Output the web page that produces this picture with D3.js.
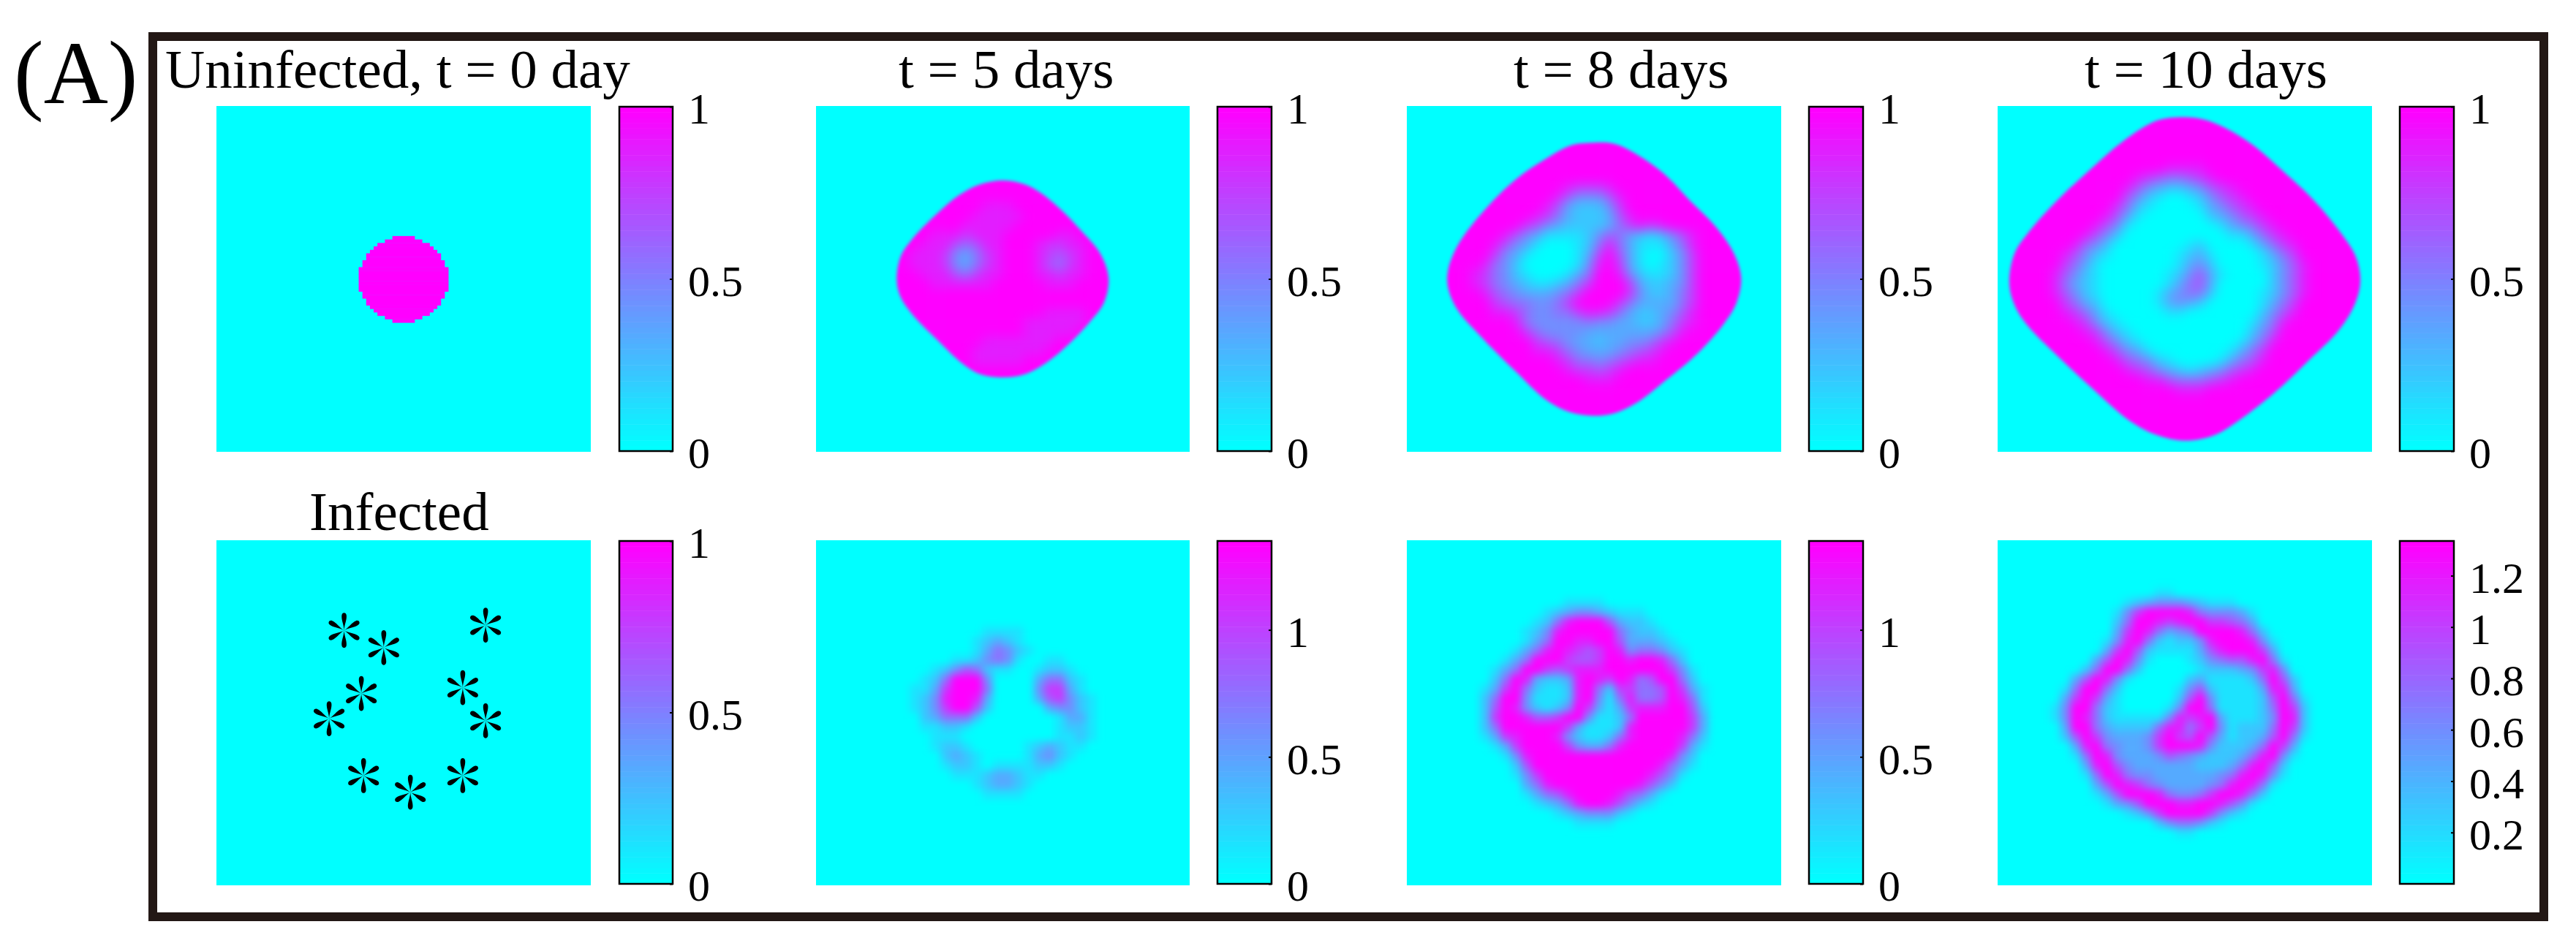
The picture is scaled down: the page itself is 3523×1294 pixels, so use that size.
<!DOCTYPE html>
<html>
<head>
<meta charset="utf-8">
<script src="https://cdn.jsdelivr.net/npm/d3@7"></script>
<style>
  html, body { margin: 0; padding: 0; background: #fff; }
  svg text { font-family: "Liberation Serif", serif; fill: #000; }
</style>
</head>
<body>
<div id="chart-area"></div>
<script>
// titles and colorbar ticks
const panelLabel = "(A)";
const titlesTop = ["Uninfected, t = 0 day", "t = 5 days", "t = 8 days", "t = 10 days"];
const titlesBottom = ["Infected"];
const ticksHalf = [0, 0.5, 1];
const ticksFine = [0.2, 0.4, 0.6, 0.8, 1, 1.2];
const colorMaxUninfected = 1;
const colorMaxInfected = 1.35;
const colorMaxInfected10 = 1.335;

// t = 0: half width of the seeded disk per row, rows -12..12 around the centre (100 x 100 sim grid)
const diskHalfWidths = [3, 5, 7, 8, 9, 10, 10, 11, 11, 12, 12, 12, 12, 12, 12, 12, 11, 11, 10, 10, 9, 8, 7, 5, 3];

// infection sites, percent of the panel
const siteX = [34.1, 44.7, 71.9, 38.7, 65.8, 30.1, 71.9, 39.3, 51.8, 65.8];
const siteY = [26.1, 31.1, 24.6, 44.4, 42.7, 51.7, 52.3, 68.2, 73.0, 68.2];

// outer front of the uninfected colony, [x, y] in percent of the panel
const frontT5 = [[50.2,21.5],[55.8,22.6],[60.0,25.0],[65.6,30.0],[71.2,36.3],[76.1,42.7],[78.3,49.7],[77.1,56.8],[73.3,62.4],[67.0,69.5],[61.4,74.4],[55.8,77.6],[50.2,78.5],[44.0,77.6],[39.1,74.4],[32.1,67.3],[25.8,60.3],[22.7,55.4],[21.6,50.4],[22.7,43.4],[25.8,38.4],[32.1,31.4],[38.4,25.7],[44.0,22.6]];
const frontT8 = [[49.7,10.6],[55.3,10.9],[61.6,14.1],[68.5,19.4],[75.5,27.2],[82.5,34.9],[87.4,42.7],[89.3,49.7],[88.1,56.8],[84.6,63.1],[77.6,71.6],[69.2,79.3],[61.6,85.7],[55.3,88.9],[49.7,89.6],[43.4,88.5],[37.2,85.0],[28.8,76.5],[19.7,66.6],[13.5,58.9],[11.0,52.5],[11.0,47.6],[13.5,40.5],[19.7,31.4],[28.8,21.5],[37.2,15.2],[44.1,11.3]];
const frontT10 = [[49.5,3.2],[55.1,3.9],[60.7,6.3],[67.7,10.9],[76.1,18.7],[84.4,27.2],[91.4,36.3],[95.6,43.4],[96.9,50.4],[95.6,56.8],[91.4,64.5],[83.0,73.7],[74.0,82.9],[64.9,90.6],[57.9,95.2],[50.2,96.8],[42.6,95.2],[35.6,91.3],[25.1,81.5],[16.0,72.3],[7.7,63.1],[4.5,57.5],[3.1,51.1],[4.5,42.7],[8.4,36.3],[16.0,27.2],[25.1,18.0],[33.5,10.2],[42.6,4.2]];

// density cells, 36 x 36, digit 0..9 = bottom..top of that panel's colorbar
const full = "999999 999999 999999 999999 999999 999999";
const none = "000000 000000 000000 000000 000000 000000";
const rep = (row, n) => Array(n).fill(row);

const fieldT5 = [
  ...rep(full, 10),
  "999999 999999 999988 899999 999999 999999",
  "999999 999999 999888 889999 999999 999999",
  "999999 999999 998888 899999 999999 999999",
  "999999 999998 887888 999998 899999 999999",
  "999999 999988 865688 999877 889999 999999",
  "999999 999888 743578 999876 789999 999999",
  "999999 999888 743578 999865 789999 999999",
  "999999 999988 865788 999887 889999 999999",
  "999999 999998 888889 999988 899999 999999",
  ...rep(full, 2),
  "999999 999999 999999 999988 889999 999999",
  "999999 999999 999999 998888 889999 999999",
  "999999 999999 999999 998888 899999 999999",
  "999999 999999 999988 888889 999999 999999",
  "999999 999999 999888 888899 999999 999999",
  "999999 999999 999888 889999 999999 999999",
  ...rep(full, 9)
];

const fieldT8 = [
  ...rep(full, 8),
  "999999 999999 999877 789999 999999 999999",
  "999999 999999 998644 468999 999999 999999",
  "999999 999999 986322 247999 999999 999999",
  "999999 999999 875322 236899 999999 999999",
  "999999 999997 643222 235787 899999 999999",
  "999999 999864 311112 465321 246899 999999",
  "999999 998643 100012 585311 135899 999999",
  "999999 997431 000013 796310 024799 999999",
  "999999 985420 000014 897310 124799 999999",
  "999999 875421 000135 998421 124799 999999",
  "999999 875432 112357 999732 234799 999999",
  "999999 986543 334579 999742 235799 999999",
  "999999 997655 445799 997533 335799 999999",
  "999999 998875 445578 875322 346899 999999",
  "999999 999985 444445 443322 357899 999999",
  "999999 999997 544443 333333 468999 999999",
  "999999 999999 765433 233445 789999 999999",
  "999999 999999 887543 334567 899999 999999",
  "999999 999999 998755 456788 999999 999999",
  "999999 999999 999877 678999 999999 999999",
  "999999 999999 999998 889999 999999 999999",
  ...rep(full, 7)
];

const fieldT10 = [
  ...rep(full, 6),
  "999999 999999 999988 889999 999999 999999",
  "999999 999999 987655 678999 999999 999999",
  "999999 999999 864322 346789 999999 999999",
  "999999 999999 642100 124678 999999 999999",
  "999999 999997 521000 013467 899999 999999",
  "999999 999986 310000 002346 789999 999999",
  "999999 999864 100000 000134 578999 999999",
  "999999 998642 000000 000011 357899 999999",
  "999999 985420 000000 120000 135789 999999",
  "999999 864210 000001 231000 013579 999999",
  "999999 753100 000001 342000 012468 999999",
  "999998 642100 000012 463100 002468 999999",
  "999998 532100 000013 563000 002468 999999",
  "999998 642100 000134 552000 012468 999999",
  "999999 753200 000134 320000 013579 999999",
  "999999 875310 000011 000000 024689 999999",
  "999999 987421 000000 000000 135899 999999",
  "999999 998742 100000 000000 246999 999999",
  "999999 999864 210000 000001 358999 999999",
  "999999 999986 431000 000013 579999 999999",
  "999999 999998 654210 000135 689999 999999",
  "999999 999999 876432 123467 899999 999999",
  "999999 999999 998865 556789 999999 999999",
  "999999 999999 999998 889999 999999 999999",
  ...rep(full, 6)
];

const fieldB5 = [
  ...rep(none, 9),
  "000000 000000 000011 110000 000000 000000",
  "000000 000000 000123 210000 000000 000000",
  "000000 000000 000135 421000 000000 000000",
  "000000 000000 011245 410011 000000 000000",
  "000000 000001 246521 100122 100000 000000",
  "000000 000012 599940 000355 210000 000000",
  "000000 000113 799950 000477 310000 000000",
  "000000 000124 899830 000367 421000 000000",
  "000000 000124 799620 000034 421000 000000",
  "000000 000023 555200 000001 331000 000000",
  "000000 000011 221000 000001 221000 000000",
  "000000 000001 110000 000001 121000 000000",
  "000000 000001 221000 001232 110000 000000",
  "000000 000000 232100 001342 100000 000000",
  "000000 000000 122101 111221 000000 000000",
  "000000 000000 011123 321100 000000 000000",
  "000000 000000 000123 321000 000000 000000",
  "000000 000000 000011 110000 000000 000000",
  ...rep(none, 9)
];

const fieldB8 = [
  ...rep(none, 6),
  "000000 000000 000111 100000 000000 000000",
  "000000 000000 012344 321110 000000 000000",
  "000000 000000 125899 963221 000000 000000",
  "000000 000001 248999 995322 100000 000000",
  "000000 000001 359988 996333 210000 000000",
  "000000 000013 589876 798455 421000 000000",
  "000000 000135 999766 799899 852000 000000",
  "000000 001359 976788 899999 974100 000000",
  "000000 002598 322389 879856 995200 000000",
  "000000 013795 211289 527755 697310 000000",
  "000000 025994 111289 415855 698510 000000",
  "000000 026984 212497 313788 899620 000000",
  "000000 027998 667994 112599 999730 000000",
  "000000 025999 999731 112899 999730 000000",
  "000000 013789 998421 125899 998520 000000",
  "000000 001379 999743 358999 997310 000000",
  "000000 000148 999999 999999 984200 000000",
  "000000 000026 999999 999999 853100 000000",
  "000000 000014 799999 999998 641000 000000",
  "000000 000003 589999 999986 420000 000000",
  "000000 000001 356899 998653 100000 000000",
  "000000 000000 123589 986421 000000 000000",
  "000000 000000 001234 442100 000000 000000",
  "000000 000000 000011 110000 000000 000000",
  ...rep(none, 6)
];

const fieldB10 = [
  ...rep(none, 5),
  "000000 000000 000110 000000 000000 000000",
  "000000 000000 123444 321110 000000 000000",
  "000000 000001 479999 854443 100000 000000",
  "000000 000002 599878 997765 300000 000000",
  "000000 000003 798534 599998 520000 000000",
  "000000 000014 895212 248999 841000 000000",
  "000000 000037 962111 136899 973000 000000",
  "000000 000369 841000 124566 895100 000000",
  "000000 002599 520000 012223 478400 000000",
  "000000 036984 100000 231111 259620 000000",
  "000000 159952 000001 462111 138830 000000",
  "000000 379731 000002 694111 126951 000000",
  "000001 499521 000014 995111 125972 000000",
  "000001 498521 111148 789311 124982 000000",
  "000000 399532 222588 579412 225972 000000",
  "000000 269743 334797 696312 236951 000000",
  "000000 038954 334799 984222 359730 000000",
  "000000 015984 333465 432223 589410 000000",
  "000000 003896 433333 322235 896200 000000",
  "000000 001598 544333 333458 984100 000000",
  "000000 000369 875433 334589 851000 000000",
  "000000 000136 999854 457998 520000 000000",
  "000000 000013 469998 899864 100000 000000",
  "000000 000000 124799 997421 000000 000000",
  "000000 000000 000245 542100 000000 000000",
  "000000 000000 000001 100000 000000 000000",
  ...rep(none, 5)
];

const size = { width: 3523, height: 1294 };
const frameBox = { x: 209, y: 50, width: 3270, height: 1204 };
const panelX = [[296, 808], [1116, 1627], [1924, 2436], [2732, 3244]];
const barX = [[847, 920], [1665, 1739], [2474, 2548], [3282, 3356]];
const rowsY = [{ top: 145, bottom: 618, barTop: 146, barBottom: 617 }, { top: 739, bottom: 1211, barTop: 740, barBottom: 1209 }];

const cyanMagenta = d3.scaleLinear().domain([0, 1]).range(["#00ffff", "#ff00ff"]);
const level = d3.scaleLinear().domain([0, 9]).range([0, 1]);

const svg = d3.select("#chart-area").append("svg")
  .attr("width", size.width)
  .attr("height", size.height)
  .style("display", "block");
const defs = svg.append("defs");

const addBlur = function(id, dev) {
  defs.append("filter").attr("id", id)
    .attr("color-interpolation-filters", "sRGB")
    .attr("x", "-10%").attr("y", "-10%").attr("width", "120%").attr("height", "120%")
    .append("feGaussianBlur").attr("stdDeviation", dev);
};
addBlur("blurTop", 8);
addBlur("blurBottom", 5.5);
addBlur("frontBlur", 2.2);

svg.append("rect")
  .attr("x", frameBox.x).attr("y", frameBox.y)
  .attr("width", frameBox.width).attr("height", frameBox.height)
  .attr("fill", "none").attr("stroke", "#231815").attr("stroke-width", 12);

svg.append("text").attr("x", 19).attr("y", 141).attr("font-size", 122).text(panelLabel);

const titleAnchors = [[226, 120], [1229, 120], [2070, 120], [2851, 120]];
titlesTop.forEach((t, i) => {
  svg.append("text").attr("x", titleAnchors[i][0]).attr("y", titleAnchors[i][1]).attr("font-size", 75).text(t);
});
svg.append("text").attr("x", 423).attr("y", 725).attr("font-size", 75).text(titlesBottom[0]);

const panelGroup = function(col, row) {
  const [x0, x1] = panelX[col];
  const { top, bottom } = rowsY[row];
  const g = svg.append("g").attr("transform", `translate(${x0},${top})`);
  g.append("rect").attr("width", x1 - x0).attr("height", bottom - top).attr("fill", cyanMagenta(0));
  return { g, w: x1 - x0, h: bottom - top };
};

const drawCells = function(parent, field, w, h, blurId) {
  const cells = field.flatMap((row, r) => row.replace(/ /g, "").split("").map((d, c) => ({ r, c, v: +d })));
  const x = d3.scaleBand().domain(d3.range(36)).range([0, w]);
  const y = d3.scaleBand().domain(d3.range(36)).range([0, h]);
  parent.append("g").attr("filter", `url(#${blurId})`)
    .selectAll("rect").data(cells).join("rect")
    .attr("x", d => x(d.c)).attr("y", d => y(d.r))
    .attr("width", x.bandwidth() + 0.5).attr("height", y.bandwidth() + 0.5)
    .attr("fill", d => cyanMagenta(level(d.v)));
};

// uninfected t = 0, the pixelated seed
const seed = panelGroup(0, 0);
const simX = d3.scaleLinear().domain([0, 100]).range([0, seed.w]);
const simY = d3.scaleLinear().domain([0, 100]).range([0, seed.h]);
seed.g.selectAll("rect.seed").data(diskHalfWidths).join("rect").attr("class", "seed")
  .attr("x", d => simX(50 - d)).attr("width", d => simX(2 * d))
  .attr("y", (d, i) => simY(37.6 + i)).attr("height", simY(1) + 0.5)
  .attr("fill", cyanMagenta(1));

// uninfected t = 5, 8, 10: field masked by the sharp outer front
[[fieldT5, frontT5], [fieldT8, frontT8], [fieldT10, frontT10]].forEach(([field, front], i) => {
  const { g, w, h } = panelGroup(i + 1, 0);
  const x = d3.scaleLinear().domain([0, 100]).range([0, w]);
  const y = d3.scaleLinear().domain([0, 100]).range([0, h]);
  const outline = d3.line().x(d => x(d[0])).y(d => y(d[1])).curve(d3.curveCatmullRomClosed.alpha(0.5));
  const id = `front${i}`;
  defs.append("mask").attr("id", id).attr("maskUnits", "userSpaceOnUse")
    .attr("x", 0).attr("y", 0).attr("width", w).attr("height", h)
    .append("path").attr("d", outline(front)).attr("fill", "#fff").attr("filter", "url(#frontBlur)");
  drawCells(g.append("g").attr("mask", `url(#${id})`), field, w, h, "blurTop");
});

// six teardrop petals, the star that marks an infection site
const petalStar = {
  draw(context, area) {
    const r = Math.sqrt(area);
    d3.range(6).forEach(k => {
      const a = k * Math.PI / 3;
      const px = (u, v) => u * Math.cos(a) - v * Math.sin(a);
      const py = (u, v) => u * Math.sin(a) + v * Math.cos(a);
      const to = (c1, c2, e) => context.bezierCurveTo(px(c1[0] * r, c1[1] * r), py(c1[0] * r, c1[1] * r), px(c2[0] * r, c2[1] * r), py(c2[0] * r, c2[1] * r), px(e[0] * r, e[1] * r), py(e[0] * r, e[1] * r));
      context.moveTo(0, 0);
      to([-0.01, 0.3], [-0.16, 0.58], [-0.13, 0.82]);
      to([-0.11, 1.0], [0.11, 1.0], [0.13, 0.82]);
      to([0.16, 0.58], [0.01, 0.3], [0, 0]);
      context.closePath();
    });
  }
};

// infected t = 0, the sites
const sites = panelGroup(0, 1);
const siteScaleX = d3.scaleLinear().domain([0, 100]).range([0, sites.w]);
const siteScaleY = d3.scaleLinear().domain([0, 100]).range([0, sites.h]);
sites.g.selectAll("path.site").data(siteX).join("path").attr("class", "site")
  .attr("d", d3.symbol().type(petalStar).size(25 * 25))
  .attr("transform", (d, i) => `translate(${siteScaleX(d)},${siteScaleY(siteY[i])})`)
  .attr("fill", "#000");

// infected t = 5, 8, 10
[fieldB5, fieldB8, fieldB10].forEach((field, i) => {
  const { g, w, h } = panelGroup(i + 1, 1);
  const id = `clip${i}`;
  defs.append("clipPath").attr("id", id).append("rect").attr("width", w).attr("height", h);
  drawCells(g.append("g").attr("clip-path", `url(#${id})`), field, w, h, "blurBottom");
});

const drawBar = function(col, row, max, ticks) {
  const [x0, x1] = barX[col];
  const { barTop, barBottom } = rowsY[row];
  const y = d3.scaleLinear().domain([0, max]).range([barBottom, barTop]);
  const g = svg.append("g");
  const steps = d3.range(64);
  const stepH = (barBottom - barTop) / 64;
  g.selectAll("rect").data(steps).join("rect")
    .attr("x", x0).attr("width", x1 - x0)
    .attr("y", d => y((d + 1) / 64 * max)).attr("height", stepH + 0.5)
    .attr("fill", d => cyanMagenta(d / 63));
  g.append("rect")
    .attr("x", x0).attr("y", barTop).attr("width", x1 - x0).attr("height", barBottom - barTop)
    .attr("fill", "none").attr("stroke", "#000").attr("stroke-width", 2.5);
  const axis = d3.axisRight(y).tickValues(ticks).tickSize(-4).tickPadding(21).tickFormat(d => d);
  const a = g.append("g").attr("transform", `translate(${x1},0)`).call(axis);
  a.select(".domain").remove();
  a.selectAll("line").attr("stroke", "#000").attr("stroke-width", 2);
  a.selectAll("text")
    .attr("font-size", 60)
    .attr("font-family", "Liberation Serif")
    .attr("dy", "0.38em");
};

d3.range(4).forEach(col => drawBar(col, 0, colorMaxUninfected, ticksHalf));
drawBar(0, 1, 1, ticksHalf);
drawBar(1, 1, colorMaxInfected, ticksHalf);
drawBar(2, 1, colorMaxInfected, ticksHalf);
drawBar(3, 1, colorMaxInfected10, ticksFine);
</script>
</body>
</html>
